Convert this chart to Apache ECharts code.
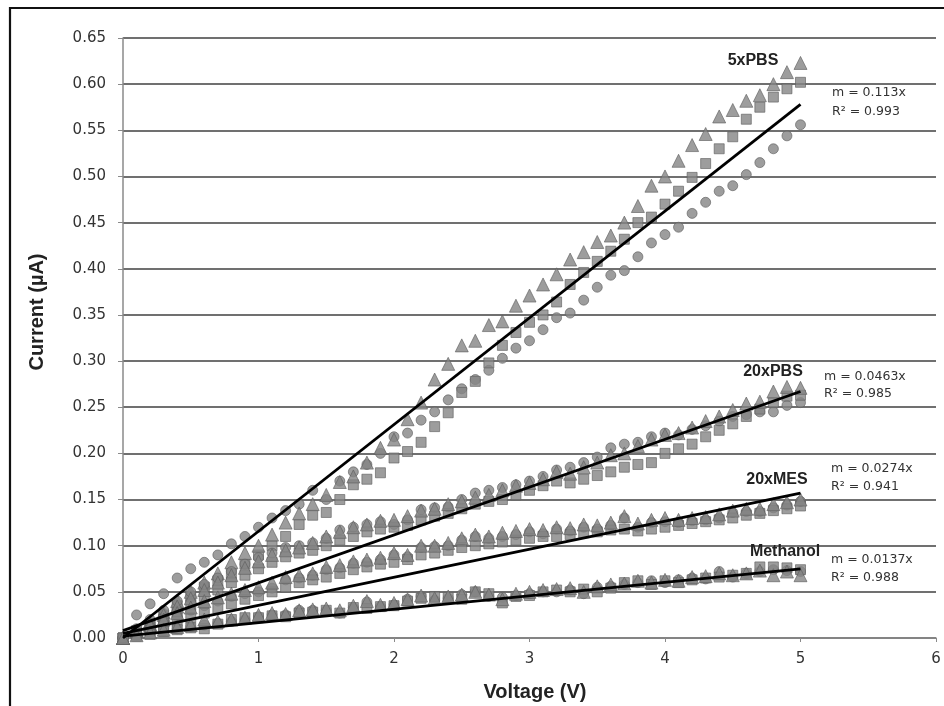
<!DOCTYPE html>
<html>
<head>
<meta charset="utf-8">
<script src="https://cdn.jsdelivr.net/npm/echarts@6/dist/echarts.min.js"></script>
<style>html,body{margin:0;padding:0;background:#fff}#c{width:944px;height:706px}</style>
</head>
<body>
<div id="c"></div>
<script>
// Voltage (V)
const voltage = [0.0,0.1,0.2,0.3,0.4,0.5,0.6,0.7,0.8,0.9,1.0,1.1,1.2,1.3,1.4,1.5,1.6,1.7,1.8,1.9,2.0,2.1,2.2,2.3,2.4,2.5,2.6,2.7,2.8,2.9,3.0,3.1,3.2,3.3,3.4,3.5,3.6,3.7,3.8,3.9,4.0,4.1,4.2,4.3,4.4,4.5,4.6,4.7,4.8,4.9,5.0];

// 5xPBS
const pbs5Circle = [0,0.025,0.037,0.048,0.065,0.075,0.082,0.09,0.102,0.11,0.12,0.13,0.138,0.145,0.16,0.15,0.17,0.18,0.188,0.2,0.218,0.222,0.236,0.245,0.258,0.27,0.28,0.29,0.303,0.314,0.322,0.334,0.347,0.352,0.366,0.38,0.393,0.398,0.413,0.428,0.437,0.445,0.46,0.472,0.484,0.49,0.502,0.515,0.53,0.544,0.556];
const pbs5Square = [0,0.008,0.015,0.025,0.035,0.045,0.055,0.062,0.07,0.08,0.09,0.1,0.11,0.123,0.133,0.136,0.15,0.166,0.172,0.179,0.195,0.202,0.212,0.229,0.244,0.266,0.278,0.298,0.317,0.331,0.342,0.35,0.364,0.383,0.396,0.408,0.419,0.432,0.45,0.456,0.47,0.484,0.499,0.514,0.53,0.543,0.562,0.575,0.586,0.595,0.602];
const pbs5Triangle = [0,0.008,0.018,0.028,0.04,0.05,0.06,0.07,0.082,0.092,0.1,0.112,0.125,0.135,0.145,0.155,0.169,0.175,0.19,0.206,0.215,0.237,0.255,0.28,0.297,0.317,0.322,0.339,0.343,0.36,0.371,0.383,0.394,0.41,0.418,0.429,0.436,0.45,0.468,0.49,0.5,0.517,0.534,0.546,0.565,0.572,0.582,0.588,0.6,0.613,0.623];

// 20xPBS
const pbs20Circle = [0,0.01,0.02,0.03,0.04,0.05,0.058,0.065,0.072,0.08,0.087,0.092,0.098,0.1,0.103,0.108,0.117,0.12,0.123,0.126,0.123,0.128,0.139,0.141,0.142,0.15,0.157,0.16,0.163,0.166,0.17,0.175,0.182,0.185,0.19,0.196,0.206,0.21,0.212,0.218,0.222,0.22,0.226,0.23,0.235,0.24,0.242,0.245,0.245,0.252,0.255];
const pbs20Square = [0,0.005,0.012,0.02,0.028,0.036,0.045,0.052,0.06,0.068,0.075,0.082,0.088,0.092,0.095,0.1,0.106,0.11,0.115,0.118,0.12,0.122,0.128,0.132,0.135,0.14,0.145,0.148,0.15,0.155,0.16,0.165,0.17,0.168,0.172,0.176,0.18,0.185,0.188,0.19,0.2,0.205,0.21,0.218,0.225,0.232,0.24,0.248,0.255,0.262,0.263];
const pbs20Triangle = [0,0.008,0.015,0.025,0.034,0.043,0.052,0.06,0.068,0.076,0.083,0.09,0.095,0.098,0.103,0.11,0.115,0.12,0.123,0.127,0.128,0.132,0.138,0.14,0.145,0.148,0.152,0.155,0.16,0.165,0.168,0.172,0.18,0.178,0.185,0.19,0.198,0.2,0.208,0.215,0.22,0.222,0.228,0.235,0.24,0.247,0.254,0.256,0.267,0.272,0.271];

// 20xMES
const mes20Circle = [0,0.006,0.012,0.018,0.024,0.03,0.035,0.04,0.045,0.048,0.05,0.054,0.063,0.065,0.068,0.074,0.076,0.081,0.082,0.085,0.09,0.088,0.098,0.099,0.1,0.106,0.11,0.108,0.11,0.112,0.115,0.113,0.118,0.116,0.12,0.118,0.122,0.13,0.12,0.125,0.126,0.125,0.127,0.128,0.13,0.136,0.137,0.137,0.141,0.144,0.148];
const mes20Square = [0,0.004,0.008,0.013,0.018,0.022,0.027,0.032,0.037,0.042,0.046,0.05,0.055,0.06,0.063,0.066,0.07,0.074,0.077,0.08,0.082,0.085,0.09,0.092,0.095,0.098,0.1,0.102,0.104,0.106,0.108,0.11,0.11,0.112,0.114,0.115,0.117,0.118,0.116,0.118,0.12,0.122,0.124,0.126,0.128,0.13,0.133,0.135,0.138,0.14,0.143];
const mes20Triangle = [0,0.007,0.014,0.02,0.027,0.033,0.04,0.044,0.048,0.052,0.055,0.06,0.066,0.068,0.07,0.077,0.079,0.083,0.085,0.087,0.092,0.09,0.1,0.1,0.103,0.108,0.112,0.11,0.114,0.116,0.118,0.117,0.12,0.119,0.123,0.122,0.125,0.132,0.124,0.128,0.13,0.128,0.13,0.131,0.134,0.138,0.14,0.14,0.145,0.147,0.15];

// Methanol
const methCircle = [0,0.003,0.006,0.008,0.01,0.012,0.014,0.016,0.018,0.02,0.023,0.025,0.025,0.03,0.03,0.03,0.027,0.033,0.039,0.034,0.036,0.042,0.045,0.041,0.043,0.047,0.05,0.045,0.044,0.046,0.048,0.05,0.05,0.052,0.048,0.055,0.056,0.058,0.06,0.062,0.06,0.063,0.065,0.064,0.072,0.066,0.07,0.072,0.074,0.073,0.072];
const methSquare = [0,0.002,0.004,0.007,0.009,0.011,0.01,0.015,0.02,0.022,0.022,0.024,0.023,0.027,0.028,0.03,0.027,0.033,0.032,0.034,0.035,0.04,0.043,0.045,0.044,0.042,0.05,0.048,0.038,0.045,0.046,0.05,0.052,0.05,0.053,0.05,0.054,0.06,0.062,0.058,0.062,0.06,0.063,0.065,0.066,0.068,0.07,0.077,0.077,0.076,0.074];
const methTriangle = [0,0.003,0.006,0.009,0.012,0.014,0.02,0.018,0.02,0.022,0.025,0.027,0.026,0.03,0.031,0.032,0.03,0.035,0.04,0.036,0.038,0.042,0.046,0.043,0.045,0.047,0.05,0.047,0.042,0.048,0.05,0.052,0.053,0.054,0.05,0.056,0.058,0.059,0.062,0.06,0.063,0.062,0.066,0.067,0.07,0.068,0.07,0.073,0.068,0.072,0.068];

// Linear fit lines: [x0, y0] -> [x1, y1]
const fitX = [0, 5];
const fit5PBS = [0.0, 0.578];
const fit20PBS = [0.008, 0.267];
const fit20MES = [0.005, 0.157];
const fitMeth = [0.002, 0.075];

// Tick labels
const xTicks = [0,1,2,3,4,5,6];
const yTicks = [0.00,0.05,0.10,0.15,0.20,0.25,0.30,0.35,0.40,0.45,0.50,0.55,0.60,0.65];

const groupLabels = ['5xPBS','20xPBS','20xMES','Methanol'];
const fitSlopes = ['m = 0.113x','m = 0.0463x','m = 0.0274x','m = 0.0137x'];
const fitR2 = ['R\u00b2 = 0.993','R\u00b2 = 0.985','R\u00b2 = 0.941','R\u00b2 = 0.988'];

const pair = (ys) => voltage.map((v, i) => [v, ys[i]]);
const markerStyle = {color: '#858585', borderColor: '#5e5e5e', borderWidth: 0.8};
function sc(name, ys, symbol, size) {
  return {name, type: 'scatter', data: pair(ys), symbol, symbolSize: size,
    itemStyle: markerStyle, z: 3, silent: true};
}
function fit(name, ys) {
  return {name, type: 'line', data: fitX.map((x, i) => [x, ys[i]]), symbol: 'none',
    lineStyle: {color: '#000', width: 2.8}, z: 5, silent: true};
}

const series = [
  sc('5xPBS c', pbs5Circle, 'circle', 10), sc('5xPBS s', pbs5Square, 'rect', 10), sc('5xPBS t', pbs5Triangle, 'triangle', 13),
  sc('20xPBS c', pbs20Circle, 'circle', 10), sc('20xPBS s', pbs20Square, 'rect', 10), sc('20xPBS t', pbs20Triangle, 'triangle', 13),
  sc('20xMES c', mes20Circle, 'circle', 10), sc('20xMES s', mes20Square, 'rect', 10), sc('20xMES t', mes20Triangle, 'triangle', 13),
  sc('Meth c', methCircle, 'circle', 10), sc('Meth s', methSquare, 'rect', 10), sc('Meth t', methTriangle, 'triangle', 13),
  fit('fit 5xPBS', fit5PBS), fit('fit 20xPBS', fit20PBS), fit('fit 20xMES', fit20MES), fit('fit Meth', fitMeth)
];

const labelPos = [[753, 61], [773, 372], [777, 480], [785, 552]];
const eqPos = [[832, 93, 112], [824, 377, 394], [831, 469, 487], [831, 560, 578]];

const graphics = [
  {type: 'rect', shape: {x: 10, y: 8, width: 1200, height: 1000}, style: {fill: 'none', stroke: '#111', lineWidth: 2.2}, silent: true, z: 0},
  {type: 'text', x: 535, y: 692, style: {text: 'Voltage (V)', font: 'bold 20px "Liberation Sans", Arial, sans-serif', fill: '#222', textAlign: 'center', textVerticalAlign: 'middle'}},
  {type: 'text', x: 37, y: 312, rotation: Math.PI / 2, style: {text: 'Current (\u00b5A)', font: 'bold 20px "Liberation Sans", Arial, sans-serif', fill: '#222', textAlign: 'center', textVerticalAlign: 'middle'}}
];
groupLabels.forEach((t, i) => {
  graphics.push({type: 'text', x: labelPos[i][0], y: labelPos[i][1], z: 10,
    style: {text: t, font: 'bold 16px "Liberation Sans", Arial, sans-serif', fill: '#222', textAlign: 'center', textVerticalAlign: 'middle'}});
  graphics.push({type: 'text', x: eqPos[i][0], y: eqPos[i][1], z: 10,
    style: {text: fitSlopes[i], font: '12.5px "DejaVu Sans", Verdana, sans-serif', fill: '#333', textAlign: 'left', textVerticalAlign: 'middle'}});
  graphics.push({type: 'text', x: eqPos[i][0], y: eqPos[i][2], z: 10,
    style: {text: fitR2[i], font: '12.5px "DejaVu Sans", Verdana, sans-serif', fill: '#333', textAlign: 'left', textVerticalAlign: 'middle'}});
});

const chart = echarts.init(document.getElementById('c'), null, {renderer: 'canvas'});
chart.setOption({
  animation: false,
  backgroundColor: '#fff',
  grid: {left: 123, right: 8, top: 38, bottom: 68, containLabel: false},
  xAxis: {
    type: 'value', min: xTicks[0], max: xTicks[xTicks.length - 1], interval: 1,
    axisLine: {show: true, onZero: false, lineStyle: {color: '#8a8a8a', width: 1.5}},
    axisTick: {show: true, length: 4, lineStyle: {color: '#8a8a8a'}},
    splitLine: {show: false},
    axisLabel: {color: '#333', fontSize: 15, fontFamily: '"DejaVu Sans", Verdana, sans-serif', margin: 14,
      formatter: (v) => xTicks.includes(v) ? String(v) : ''}
  },
  yAxis: {
    type: 'value', min: yTicks[0], max: yTicks[yTicks.length - 1], interval: 0.05,
    axisLine: {show: true, lineStyle: {color: '#8a8a8a', width: 1.5}},
    axisTick: {show: true, length: 5, lineStyle: {color: '#8a8a8a'}},
    splitLine: {show: true, lineStyle: {color: '#404040', width: 1.6}},
    axisLabel: {color: '#333', fontSize: 15, fontFamily: '"DejaVu Sans", Verdana, sans-serif', margin: 17,
      formatter: (v) => v.toFixed(2)}
  },
  series,
  graphic: graphics
});
</script>
</body>
</html>
